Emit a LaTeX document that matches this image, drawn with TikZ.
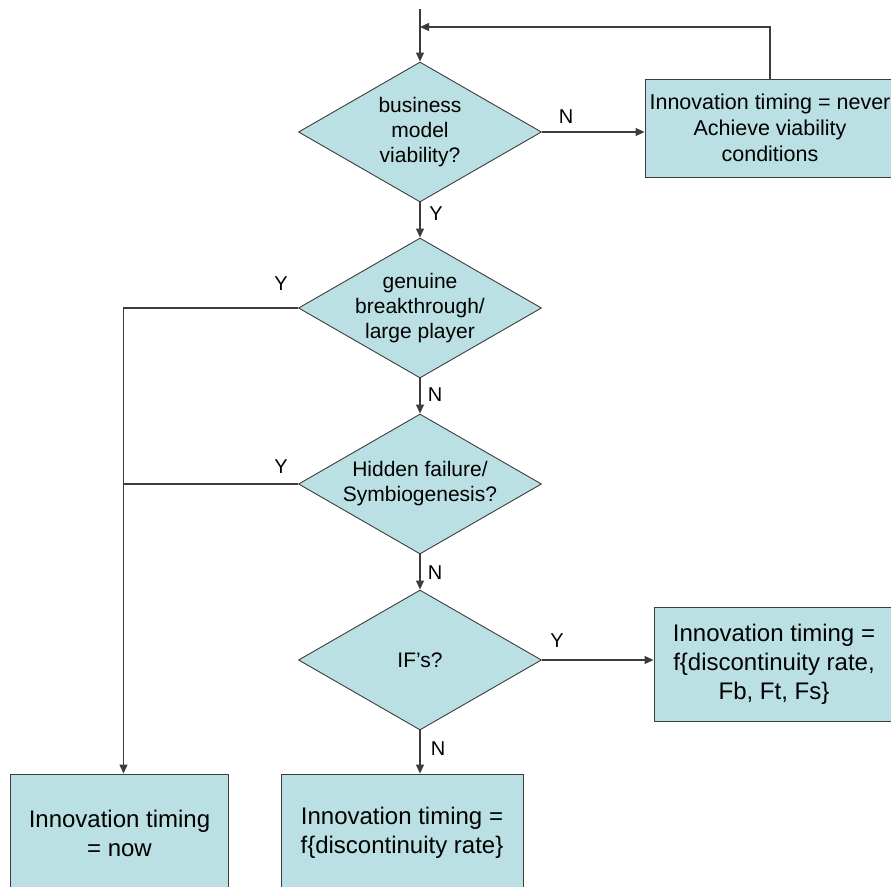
\documentclass[tikz,border=0pt]{standalone}
\usepackage{fontspec}
\setmainfont{Liberation Sans}
\usetikzlibrary{shapes.geometric,arrows.meta}
\definecolor{fillteal}{RGB}{186,224,227}
\definecolor{edgegray}{RGB}{60,60,60}
\begin{document}
\begin{tikzpicture}[x=1pt,y=-1pt,
  decision/.style={diamond, draw=edgegray, line width=0.9pt, fill=fillteal,
    minimum width=243pt, minimum height=140pt, inner sep=0pt, shape aspect=1.75},
  dtext/.style={align=center, inner sep=0pt, font=\fontsize{21}{25}\selectfont},
  outbox/.style={rectangle, draw=edgegray, line width=0.9pt, fill=fillteal,
    align=center, inner sep=0pt, font=\fontsize{24}{29}\selectfont},
  lbl/.style={font=\fontsize{20}{22}\selectfont, inner sep=0pt},
  conn/.style={draw=edgegray, line width=1.1pt},
  arr/.style={conn, -{Triangle[length=9pt,width=8pt]}}]
\useasboundingbox (0,0) rectangle (891,886);

\node[decision] (d1) at (420,132) {};
\node[decision] (d2) at (420,308) {};
\node[decision] (d3) at (420,484) {};
\node[decision] (d4) at (420,660) {};
\node[dtext] (t1) at (d1.center) {business\\model\\viability?};
\node[dtext] (t2) at (d2.center) {genuine\\breakthrough/\\large player};
\node[dtext] (t3) at (d3.center) {Hidden failure/\\Symbiogenesis?};
\node[dtext] (t4) at (d4.center) {IF’s?};

\node[outbox, minimum width=250pt, minimum height=98pt,
  font=\fontsize{21.5}{26}\selectfont] (b1) at (770,128)
  {Innovation timing = never\\Achieve viability\\conditions};
\node[outbox, minimum width=240pt, minimum height=114pt] (b2) at (774,664)
  {Innovation timing =\\f\{discontinuity rate,\\Fb, Ft, Fs\}};
\node[outbox, minimum width=218pt, minimum height=118pt] (b3) at (119.5,833)
  {Innovation timing\\= now};
\node[outbox, minimum width=242pt, minimum height=118pt] (b4) at (402,833)
  {Innovation timing =\\f\{discontinuity rate\}};

\coordinate (start) at (420,9);
\coordinate (fbtop) at (b1.north |- 0,27);
\coordinate (fbend) at (420,27);
\coordinate (lx) at (123.5,308);

\draw[arr] (start) -- (d1.north);
\draw[arr] (b1.north) -- (fbtop) -- (fbend);
\draw[arr] (d1.east) -- (d1.east -| b1.west);
\draw[arr] (d1.south) -- (d2.north);
\draw[arr] (d2.south) -- (d3.north);
\draw[arr] (d3.south) -- (d4.north);
\draw[arr] (d4.east) -- (d4.east -| b2.west);
\draw[arr] (d4.south) -- (d4.south |- b4.north);
\draw[arr] (d2.west) -- (lx) -- (lx |- b3.north);
\draw[conn] (d3.west) -- (lx |- d3.west);

\node[lbl] (ln1) at (566,117) {N};
\node[lbl] (ly1) at (436,214) {Y};
\node[lbl] (ly2) at (281,284) {Y};
\node[lbl] (ln2) at (435,395) {N};
\node[lbl] (ly3) at (281,467) {Y};
\node[lbl] (ln3) at (435,573) {N};
\node[lbl] (ly4) at (557,641) {Y};
\node[lbl] (ln4) at (438,749) {N};
\end{tikzpicture}
\end{document}
